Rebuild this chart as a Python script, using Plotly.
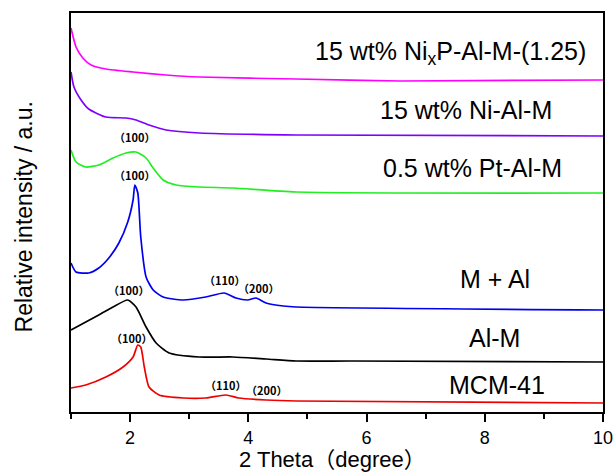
import plotly.graph_objects as go

# 2 theta (degree) and relative intensity (a.u., stacked offsets)
nixp_x = [1.0, 1.085, 1.20, 1.34, 1.59, 2.05, 2.61, 3.17, 4.81, 6.57, 10.0]
nixp_y = [384, 365, 354, 347, 343, 340, 337, 335, 333, 331, 332]

ni_x = [1.0, 1.05, 1.17, 1.30, 1.59, 1.93, 2.10, 2.32, 2.61, 3.17, 4.81, 10.0]
ni_y = [340, 325, 312, 303, 295, 294, 292, 287, 282, 279, 277, 276]

pt_x = [1.0, 1.085, 1.25, 1.47, 1.71, 1.93, 2.10, 2.27, 2.39, 2.56, 2.78, 3.17, 3.74, 4.81, 10.0]
pt_y = [262, 250, 245, 247, 254, 259, 260, 254, 244, 232, 227, 225, 224, 220, 219]

mal_x = [1.0, 1.085, 1.30, 1.47, 1.64, 1.81, 1.96, 2.05, 2.08, 2.13, 2.18, 2.27, 2.39, 2.56,
         2.90, 3.28, 3.59, 3.79, 3.99, 4.13, 4.30, 4.59, 4.81, 10.0]
mal_y = [149, 140, 139, 144, 154, 169, 190, 212, 227, 219, 175, 135, 122, 115,
         112, 115, 119, 114, 112, 114, 109, 106, 105, 102]

alm_x = [1.0, 1.25, 1.47, 1.71, 1.96, 2.10, 2.27, 2.44, 2.66, 3.17, 3.74, 4.30, 4.81, 5.75, 10.0]
alm_y = [82, 90, 97, 105, 112, 105, 85, 69, 59, 55, 55, 53, 51, 51, 50]

mcm_x = [1.0, 1.25, 1.59, 1.88, 2.05, 2.13, 2.18, 2.24, 2.32, 2.49, 2.90, 3.28, 3.62, 3.84, 4.30, 4.81, 10.0]
mcm_y = [24, 27, 35, 45, 55, 67, 65, 45, 25, 17, 14, 14, 17, 14, 12, 11, 9]

series = [
    ("15 wt% Ni<sub>x</sub>P-Al-M-(1.25)", nixp_x, nixp_y, "#FF00FF"),
    ("15 wt% Ni-Al-M", ni_x, ni_y, "#7F00FF"),
    ("0.5 wt% Pt-Al-M", pt_x, pt_y, "#22EE22"),
    ("M + Al", mal_x, mal_y, "#0000EE"),
    ("Al-M", alm_x, alm_y, "#000000"),
    ("MCM-41", mcm_x, mcm_y, "#EE0000"),
]

# sample labels (x, y) in data units
label_pos = [(7.42, 359), (7.68, 302), (7.80, 244), (8.17, 133), (8.17, 74), (8.21, 27)]

# reflection labels
peak_text = ["（100）", "（100）", "（110）", "（200）", "（100）", "（100）", "（110）", "（200）"]
peak_x = [2.07, 2.07, 3.59, 4.18, 1.98, 2.02, 3.62, 4.30]
peak_y = [275, 237, 132, 124, 122, 74, 27, 22]

FONT = "Liberation Sans, Arial, Noto Sans CJK SC, sans-serif"

fig = go.Figure()
for name, xs, ys, col in series:
    fig.add_trace(go.Scatter(x=xs, y=ys, mode="lines", name=name,
                             line=dict(color=col, width=1.7, shape="spline", smoothing=0.6),
                             showlegend=False))

for (name, _, _, _), (lx, ly) in zip(series, label_pos):
    fig.add_annotation(x=lx, y=ly, text=name, showarrow=False,
                       font=dict(family=FONT, size=25, color="black"))

for t, px, py in zip(peak_text, peak_x, peak_y):
    fig.add_annotation(x=px, y=py, text="<b>" + t + "</b>", showarrow=False,
                       font=dict(family="Noto Sans CJK SC, Liberation Sans, sans-serif", size=11, color="black"))

# axis titles
fig.add_annotation(xref="paper", yref="paper", x=0.4915, y=-0.118, xanchor="center", yanchor="middle",
                   text="2 Theta（degree）", showarrow=False,
                   font=dict(family=FONT, size=22, color="black"))
fig.add_annotation(xref="paper", yref="paper", x=-0.0865, y=0.49, xanchor="center", yanchor="middle",
                   text="Relative intensity / a.u.", textangle=-90, showarrow=False,
                   font=dict(family=FONT, size=23, color="black"))

fig.update_layout(
    width=614, height=472,
    margin=dict(l=71, r=11, t=13, b=60),
    paper_bgcolor="white", plot_bgcolor="white",
    font=dict(family=FONT, color="black"),
)
fig.update_xaxes(
    range=[1, 10], tickvals=[2, 4, 6, 8, 10], ticktext=["2", "4", "6", "8", "10"],
    ticks="outside", ticklen=8, tickwidth=2, tickcolor="black", ticklabelstandoff=0,
    minor=dict(ticks="outside", dtick=1, tick0=1, ticklen=5, tickwidth=2, tickcolor="black"),
    showline=True, linewidth=2, linecolor="black", mirror=True,
    showgrid=False, zeroline=False, automargin=False,
    tickfont=dict(size=18, family=FONT),
)
fig.update_yaxes(
    range=[0, 399], showticklabels=False, ticks="",
    showline=True, linewidth=2, linecolor="black", mirror=True,
    showgrid=False, zeroline=False, automargin=False,
)

fig.write_html("out.html")
